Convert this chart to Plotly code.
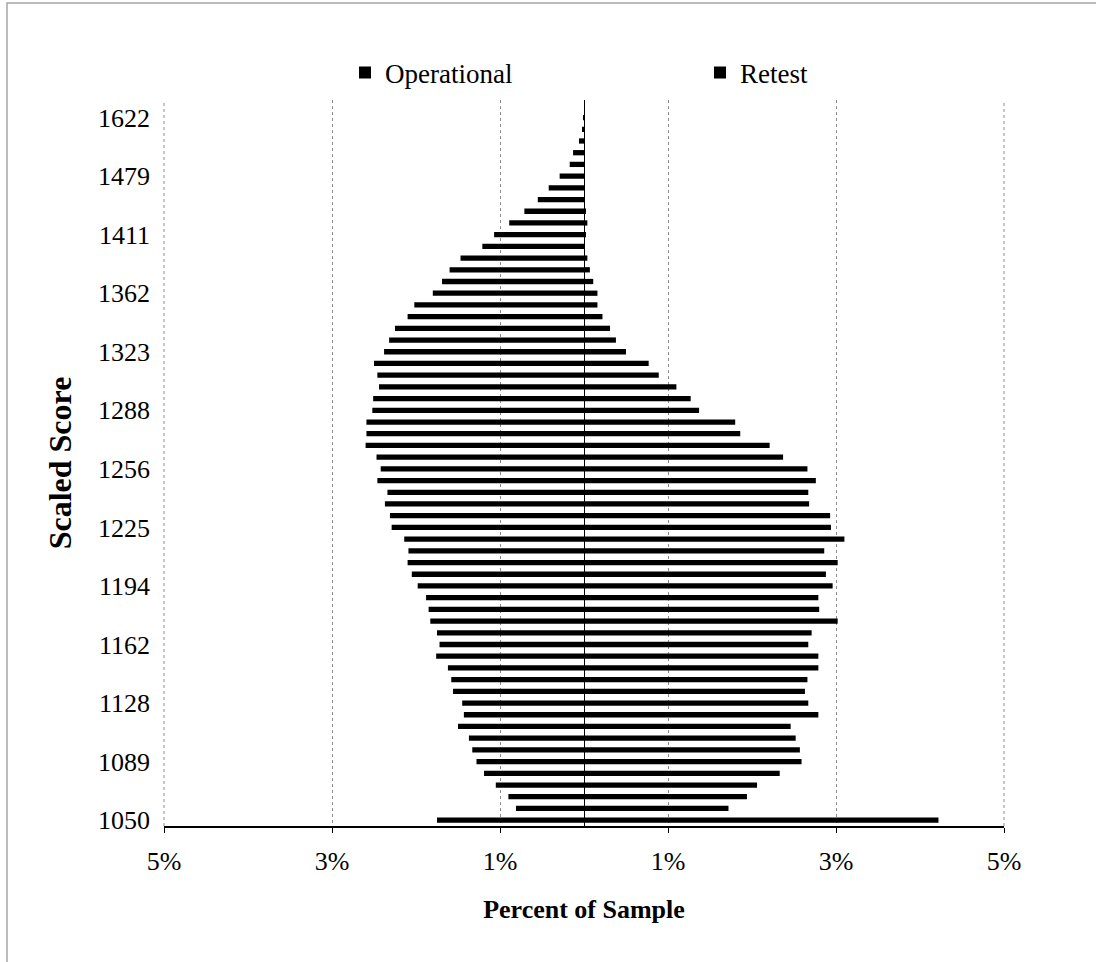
import plotly.graph_objects as go

# Scaled-score rows, bottom (1050) to top (1622); labels shown every 5th row
tick_scores = [1050, 1089, 1128, 1162, 1194, 1225, 1256, 1288, 1323, 1362, 1411, 1479, 1622]
tick_every = 5

# Percent of sample, bottom row (1050) to top row (1622)
operational = [1.75, 0.81, 0.90, 1.05, 1.19, 1.28, 1.33, 1.37, 1.50, 1.43,
               1.45, 1.56, 1.58, 1.62, 1.76, 1.72, 1.75, 1.83, 1.85, 1.88,
               1.98, 2.05, 2.10, 2.09, 2.14, 2.29, 2.31, 2.37, 2.34, 2.46,
               2.42, 2.47, 2.60, 2.59, 2.59, 2.52, 2.51, 2.44, 2.46, 2.50,
               2.38, 2.32, 2.25, 2.10, 2.02, 1.80, 1.69, 1.60, 1.47, 1.21,
               1.07, 0.89, 0.71, 0.55, 0.42, 0.29, 0.17, 0.13, 0.06, 0.02,
               0.01]
retest = [4.22, 1.72, 1.94, 2.06, 2.33, 2.59, 2.57, 2.52, 2.46, 2.79,
          2.67, 2.63, 2.66, 2.79, 2.79, 2.67, 2.71, 3.02, 2.80, 2.79,
          2.96, 2.88, 3.02, 2.86, 3.10, 2.94, 2.93, 2.68, 2.67, 2.76,
          2.66, 2.37, 2.21, 1.86, 1.80, 1.37, 1.27, 1.10, 0.89, 0.77,
          0.50, 0.38, 0.31, 0.22, 0.16, 0.16, 0.11, 0.07, 0.04, 0.01,
          0.02, 0.04, 0.02, 0.0, 0.0, 0.0, 0.0, 0.0, 0.0, 0.0,
          0.0]

x_tickvals = [-5, -3, -1, 1, 3, 5]
x_ticktext = ["5%", "3%", "1%", "1%", "3%", "5%"]

rows = list(range(len(operational)))
tick_rows = rows[::tick_every]

FONT = "Liberation Serif"

fig = go.Figure()
fig.add_trace(go.Bar(
    y=rows, x=[-v for v in operational], orientation="h", name="Operational",
    marker=dict(color="black", line=dict(width=0)),
    customdata=operational, hovertemplate="%{customdata}%<extra>Operational</extra>",
))
fig.add_trace(go.Bar(
    y=rows, x=retest, orientation="h", name="Retest",
    marker=dict(color="black", line=dict(width=0)),
    hovertemplate="%{x}%<extra>Retest</extra>",
))

W, H = 1096, 962
ml, mr, mt, mb = 164, 92, 100, 136
pw, ph = W - ml - mr, H - mt - mb

def px_x(p):
    return (p - ml) / pw

def px_y(p):
    return (H - mb - p) / ph

grid_style = dict(color="#8c8c8c", width=1, dash="dot")

fig.update_layout(
    width=W, height=H,
    margin=dict(l=ml, r=mr, t=mt, b=mb, pad=0),
    paper_bgcolor="white", plot_bgcolor="white",
    barmode="relative", bargap=0.55,
    font=dict(family=FONT, size=26, color="black"),
    showlegend=True,
    legend=dict(
        orientation="h", x=px_x(345), xanchor="left", y=px_y(73), yanchor="middle",
        entrywidth=310, entrywidthmode="pixels",
        font=dict(family=FONT, size=27, color="black"),
        bgcolor="rgba(0,0,0,0)", traceorder="normal",
    ),
    xaxis=dict(
        range=[-5, 5], tickvals=x_tickvals, ticktext=x_ticktext,
        showgrid=True, gridcolor="#8c8c8c", griddash="dot", gridwidth=1,
        zeroline=True, zerolinecolor="black", zerolinewidth=1,
        showline=True, linecolor="black", linewidth=1.5,
        ticks="outside", ticklen=5, tickcolor="black", ticklabelstandoff=6,
        tickfont=dict(family=FONT, size=26),
        title=dict(text="<b>Percent of Sample</b>", standoff=25,
                   font=dict(family=FONT, size=26)),
        fixedrange=True,
    ),
    yaxis=dict(
        range=[-0.5, len(rows) + 0.5],
        tickvals=tick_rows, ticktext=[str(s) for s in tick_scores],
        showgrid=False, zeroline=False, showline=False, ticks="",
        ticklabelstandoff=13, tickfont=dict(family=FONT, size=26),
        title=dict(text="<b>Scaled Score</b>", standoff=16,
                   font=dict(family=FONT, size=32)),
        fixedrange=True,
    ),
    shapes=[
        dict(type="rect", xref="paper", yref="paper",
             x0=px_x(7), x1=px_x(1110), y0=px_y(975), y1=px_y(3),
             line=dict(color="#a6a6a6", width=1.5), fillcolor="rgba(0,0,0,0)", layer="below"),
        dict(type="line", xref="paper", yref="paper", x0=0, x1=0, y0=0, y1=1,
             line=grid_style, layer="below"),
        dict(type="line", xref="paper", yref="paper", x0=1, x1=1, y0=0, y1=1,
             line=grid_style, layer="below"),
    ],
)

fig.write_html(
    "out.html",
    config={"displayModeBar": False},
    post_script="document.body.style.margin='0';document.body.style.overflow='hidden';",
)
